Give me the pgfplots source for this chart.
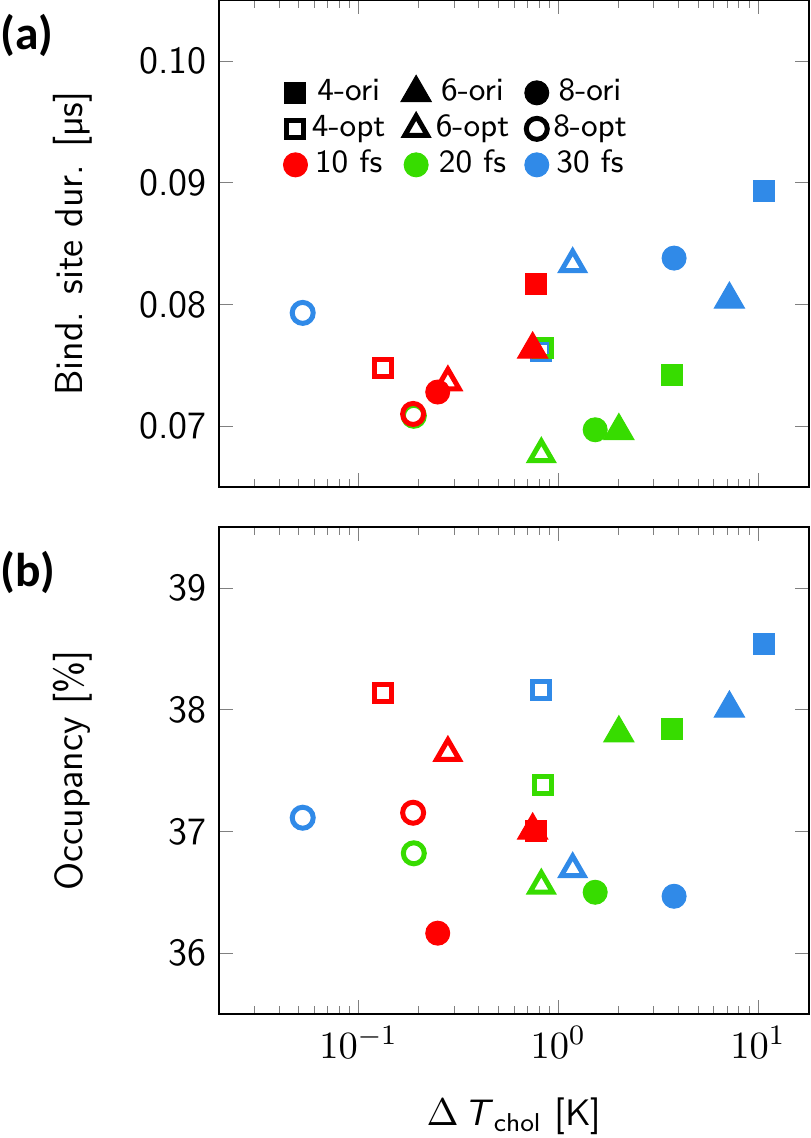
\documentclass[border=0pt]{standalone}
\usepackage{fontspec}
\newfontfamily\carlito{Carlito}
\usepackage{pgfplots}
\pgfplotsset{compat=1.18}
\definecolor{cR}{RGB}{255,0,0}
\definecolor{cG}{RGB}{55,220,0}
\definecolor{cB}{RGB}{48,138,232}
\newcommand\tickfont{\sffamily\fontsize{11}{13}\selectfont}
\newcommand\labfont{\sffamily\fontsize{11.1}{13}\selectfont}
\pgfplotsset{
 msq/.style={only marks, mark=square*, mark size=1.05mm, line width=0.1mm, color=#1, mark options={fill=#1}},
 mtr/.style={only marks, mark=triangle*, mark size=1.75mm, line width=0.1mm, color=#1, mark options={fill=#1}},
 mci/.style={only marks, mark=*, mark size=1.2mm, line width=0.1mm, color=#1, mark options={fill=#1}},
 mosq/.style={only marks, mark=square, mark size=0.85mm, line width=0.5mm, color=#1},
 motr/.style={only marks, mark=triangle, mark size=1.3mm, line width=0.5mm, color=#1},
 moci/.style={only marks, mark=o, mark size=1.05mm, line width=0.5mm, color=#1},
}
\begin{document}
\begin{tikzpicture}
\path[use as bounding box] (0,0) rectangle (81mm,-113.8mm);
\node[anchor=west, inner sep=0pt, font=\carlito\bfseries\fontsize{13.5}{15}\selectfont] at (0mm,-3.55mm) {(a)};
\node[anchor=west, inner sep=0pt, font=\carlito\bfseries\fontsize{13.5}{15}\selectfont] at (0mm,-57.2mm) {(b)};
\begin{semilogxaxis}[at={(21.9mm,0mm)}, anchor=north west,
  width=59mm, height=48.7mm, scale only axis,
  xmin=0.02, xmax=18,
  tick style={gray, very thin},
  major tick length=1.4mm, minor tick length=0.8mm,
  yticklabel style={font=\tickfont, /pgf/number format/assume math mode=true,
     /pgf/number format/fixed, /pgf/number format/precision=2, /pgf/number format/fixed zerofill},
  label style={font=\labfont},
  ylabel style={at={(axis description cs:-0.248,0.5)}, anchor=center},
  clip=false,
  ymin=0.065, ymax=0.105, ytick={0.07,0.08,0.09,0.10},
  xticklabels={},
  ylabel={Bind. site dur. [µs]},
  legend columns=3,
  legend style={draw=none, fill=none, inner sep=0pt, outer sep=0pt,
    at={(axis description cs:0.1093,0.8463)}, anchor=north west,
    font=\sffamily\fontsize{9.2}{10}\selectfont, row sep=0pt,
    nodes={inner xsep=0.45mm, inner ysep=0.3mm, text height=2.3mm, text depth=0.7mm},
    /tikz/every even column/.append style={column sep=1.1mm}},
]
\addlegendimage{msq=black}\addlegendentry{4-ori}
\addlegendimage{mtr=black}\addlegendentry{6-ori}
\addlegendimage{mci=black}\addlegendentry{8-ori}
\addlegendimage{mosq=black}\addlegendentry{4-opt}
\addlegendimage{motr=black}\addlegendentry{6-opt}
\addlegendimage{moci=black}\addlegendentry{8-opt}
\addlegendimage{mci=cR}\addlegendentry{10 fs}
\addlegendimage{mci=cG}\addlegendentry{20 fs}
\addlegendimage{mci=cB}\addlegendentry{30 fs}
% 30 fs
\addplot[mosq=cB, forget plot] coordinates {(0.82,0.0762)};
\addplot[motr=cB, forget plot] coordinates {(1.18,0.0833)};
\addplot[moci=cB, forget plot] coordinates {(0.0525,0.0793)};
\addplot[msq=cB, forget plot] coordinates {(10.7,0.0893)};
\addplot[mtr=cB, forget plot] coordinates {(7.19,0.0804)};
\addplot[mci=cB, forget plot] coordinates {(3.8,0.0838)};
% 20 fs
\addplot[mosq=cG, forget plot] coordinates {(0.835,0.0764)};
\addplot[motr=cG, forget plot] coordinates {(0.822,0.0677)};
\addplot[moci=cG, forget plot] coordinates {(0.189,0.07085)};
\addplot[msq=cG, forget plot] coordinates {(3.73,0.0742)};
\addplot[mtr=cG, forget plot] coordinates {(2.01,0.0696)};
\addplot[mci=cG, forget plot] coordinates {(1.53,0.0697)};
% 10 fs
\addplot[mosq=cR, forget plot] coordinates {(0.133,0.0748)};
\addplot[motr=cR, forget plot] coordinates {(0.28,0.0736)};
\addplot[moci=cR, forget plot] coordinates {(0.1875,0.0710)};
\addplot[msq=cR, forget plot] coordinates {(0.776,0.0817)};
\addplot[mtr=cR, forget plot] coordinates {(0.744,0.0763)};
\addplot[mci=cR, forget plot] coordinates {(0.249,0.0728)};
\end{semilogxaxis}
\begin{semilogxaxis}[at={(21.9mm,-52.7mm)}, anchor=north west,
  width=59mm, height=48.7mm, scale only axis,
  xmin=0.02, xmax=18,
  tick style={gray, very thin},
  major tick length=1.4mm, minor tick length=0.8mm,
  yticklabel style={font=\tickfont, /pgf/number format/assume math mode=true},
  xticklabel style={font=\fontsize{11}{13}\selectfont},
  label style={font=\labfont},
  ylabel style={at={(axis description cs:-0.248,0.5)}, anchor=center},
  clip=false,
  ymin=35.5, ymax=39.5, ytick={36,37,38,39},
  ylabel={Occupancy [\%]},
  xlabel={$\Delta$\,\textsl{T}\textsubscript{chol} [K]},
  xlabel style={at={(axis description cs:0.5,-0.2105)}, anchor=center, font=\sffamily\fontsize{10.5}{12}\selectfont},
]
% 30 fs
\addplot[mosq=cB] coordinates {(0.82,38.164)};
\addplot[motr=cB] coordinates {(1.18,36.69)};
\addplot[moci=cB] coordinates {(0.0525,37.112)};
\addplot[msq=cB] coordinates {(10.7,38.535)};
\addplot[mtr=cB] coordinates {(7.19,38.01)};
\addplot[mci=cB] coordinates {(3.8,36.467)};
% 20 fs
\addplot[mosq=cG] coordinates {(0.835,37.383)};
\addplot[motr=cG] coordinates {(0.822,36.555)};
\addplot[moci=cG] coordinates {(0.189,36.82)};
\addplot[msq=cG] coordinates {(3.73,37.844)};
\addplot[mtr=cG] coordinates {(2.01,37.806)};
\addplot[mci=cG] coordinates {(1.53,36.50)};
% 10 fs
\addplot[mosq=cR] coordinates {(0.133,38.134)};
\addplot[motr=cR] coordinates {(0.28,37.645)};
\addplot[moci=cR] coordinates {(0.1875,37.153)};
\addplot[mtr=cR] coordinates {(0.744,37.008)};
\addplot[msq=cR] coordinates {(0.776,37.006)};
\addplot[mci=cR] coordinates {(0.249,36.164)};
\end{semilogxaxis}
\end{tikzpicture}
\end{document}
